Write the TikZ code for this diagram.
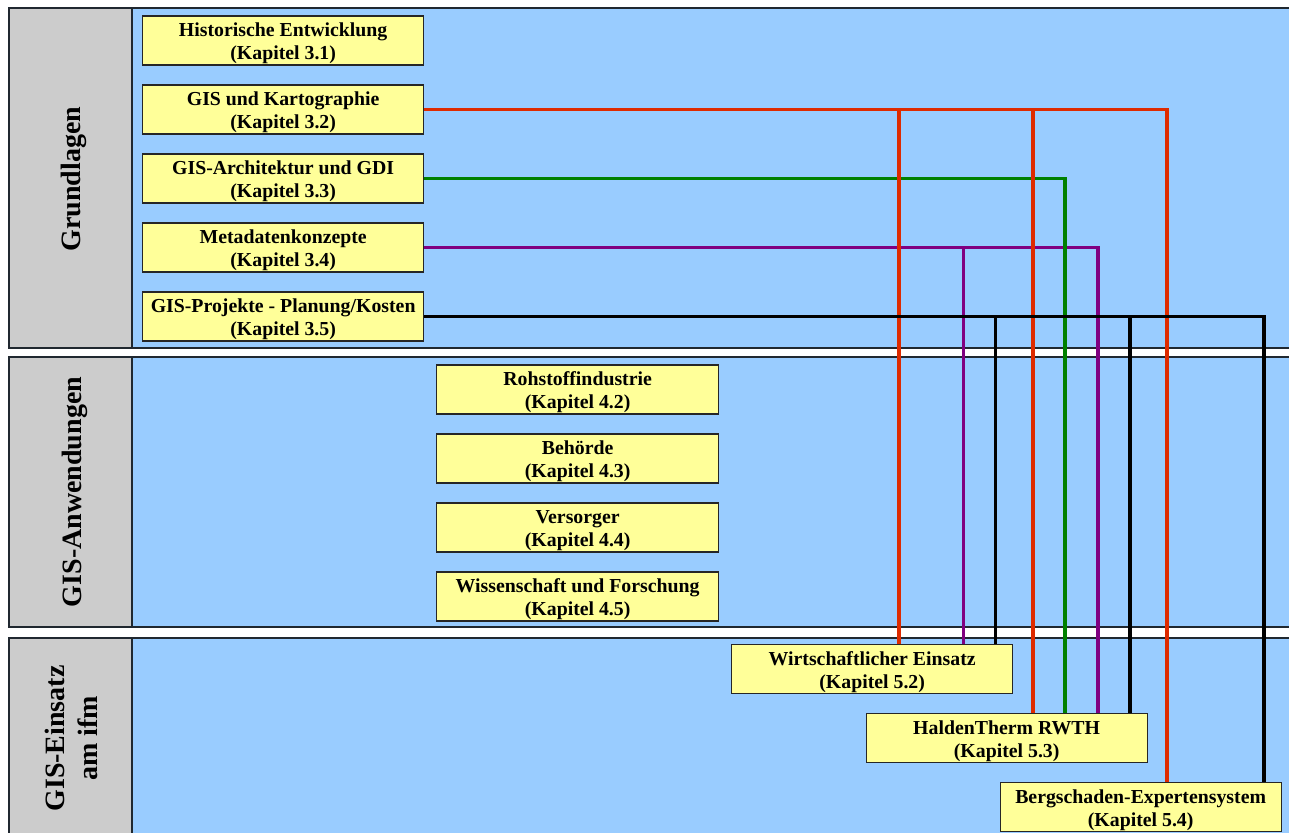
\documentclass[tikz,border=0pt]{standalone}
\usepackage{fontspec}
\setmainfont{Liberation Serif}

\definecolor{bandblue}{RGB}{153,204,255}
\definecolor{bandgray}{RGB}{204,204,204}
\definecolor{boxyellow}{RGB}{255,255,153}
\definecolor{bandedge}{RGB}{32,40,48}
\definecolor{linkred}{RGB}{222,42,0}
\definecolor{linkgreen}{RGB}{0,128,0}
\definecolor{linkpurple}{RGB}{128,0,128}

\tikzset{
  chapter/.style={draw=black!85, line width=1.3pt, fill=boxyellow,
    minimum width=281pt, minimum height=49pt, inner sep=0pt,
    align=center, anchor=north west,
    font=\fontsize{19.8}{23.6}\selectfont\bfseries},
  bandlabel/.style={rotate=90, align=center, inner sep=0pt,
    font=\fontsize{28}{33}\selectfont\bfseries},
  bandframe/.style={draw=bandedge, line width=1.5pt},
  link/.style={line width=3.6pt},
}
% two-line chapter caption with fixed top and bottom struts
\newcommand{\chaptext}[2]{\rule{0pt}{20.4pt}#1\\\rule[-5pt]{0pt}{5pt}#2}

\begin{document}
\begin{tikzpicture}[x=1pt, y=-1pt]
\useasboundingbox (0,0) rectangle (1289,832);
\clip (0,0) rectangle (1289,832);

% ---- the three bands ----
\foreach \top/\bot in {8/348, 357/627, 638/845} {
  \fill[bandblue] (9,\top) rectangle (1300,\bot);
  \fill[bandgray] (9,\top) rectangle (132,\bot);
  \draw[bandframe] (9,\top) rectangle (1300,\bot);
  \draw[bandframe] (132,\top) -- (132,\bot);
}

\node[bandlabel] (lgrund) at (73.5,179) {Grundlagen};
\node[bandlabel] (lanw) at (75,492) {GIS-Anwendungen};
\node[bandlabel] (leins) at (71.5,738.5) {GIS-Einsatz\\am ifm};

% ---- Grundlagen ----
\node[chapter] (hist) at (142,15.3)  {\chaptext{Historische Entwicklung}{(Kapitel 3.1)}};
\node[chapter] (kart) at (142,84.3)  {\chaptext{GIS und Kartographie}{(Kapitel 3.2)}};
\node[chapter] (arch) at (142,153.3) {\chaptext{GIS-Architektur und GDI}{(Kapitel 3.3)}};
\node[chapter] (meta) at (142,222.3) {\chaptext{Metadatenkonzepte}{(Kapitel 3.4)}};
\node[chapter] (proj) at (142,291.3) {\chaptext{GIS-Projekte - Planung/Kosten}{(Kapitel 3.5)}};

% ---- GIS-Anwendungen ----
\node[chapter, minimum width=282pt] (rohs) at (436,364.3) {\chaptext{Rohstoffindustrie}{(Kapitel 4.2)}};
\node[chapter, minimum width=282pt] (behd) at (436,433.3) {\chaptext{Behörde}{(Kapitel 4.3)}};
\node[chapter, minimum width=282pt] (vers) at (436,502.3) {\chaptext{Versorger}{(Kapitel 4.4)}};
\node[chapter, minimum width=282pt] (wiss) at (436,571.3) {\chaptext{Wissenschaft und Forschung}{(Kapitel 4.5)}};

% ---- GIS-Einsatz am ifm ----
\node[chapter] (wirt)   at (731,644)   {\chaptext{Wirtschaftlicher Einsatz}{(Kapitel 5.2)}};
\node[chapter] (halden) at (865.5,713) {\chaptext{HaldenTherm RWTH}{(Kapitel 5.3)}};
\node[chapter] (berg)   at (999.5,782) {\chaptext{Bergschaden-Expertensystem}{(Kapitel 5.4)}};

% ---- connectors (later ones lie on top) ----
\draw[link, linkpurple] (meta.east) -| ([xshift=232.3pt]wirt.north west);
\draw[link, linkpurple] (meta.east) -| ([xshift=232.3pt]halden.north west);

\draw[link, linkgreen] (arch.east) -| ([xshift=199.5pt]halden.north west);

\draw[link, linkred] (kart.east) -| ([xshift=168pt]wirt.north west);
\draw[link, linkred] (kart.east) -| ([xshift=167.5pt]halden.north west);
\draw[link, linkred] (kart.east) -| ([xshift=167.5pt]berg.north west);

\draw[link, black] (proj.east) -| ([xshift=264.5pt]wirt.north west);
\draw[link, black] (proj.east) -| ([xshift=264.5pt]halden.north west);
\draw[link, black] (proj.east) -| ([xshift=264.5pt]berg.north west);
\end{tikzpicture}
\end{document}
